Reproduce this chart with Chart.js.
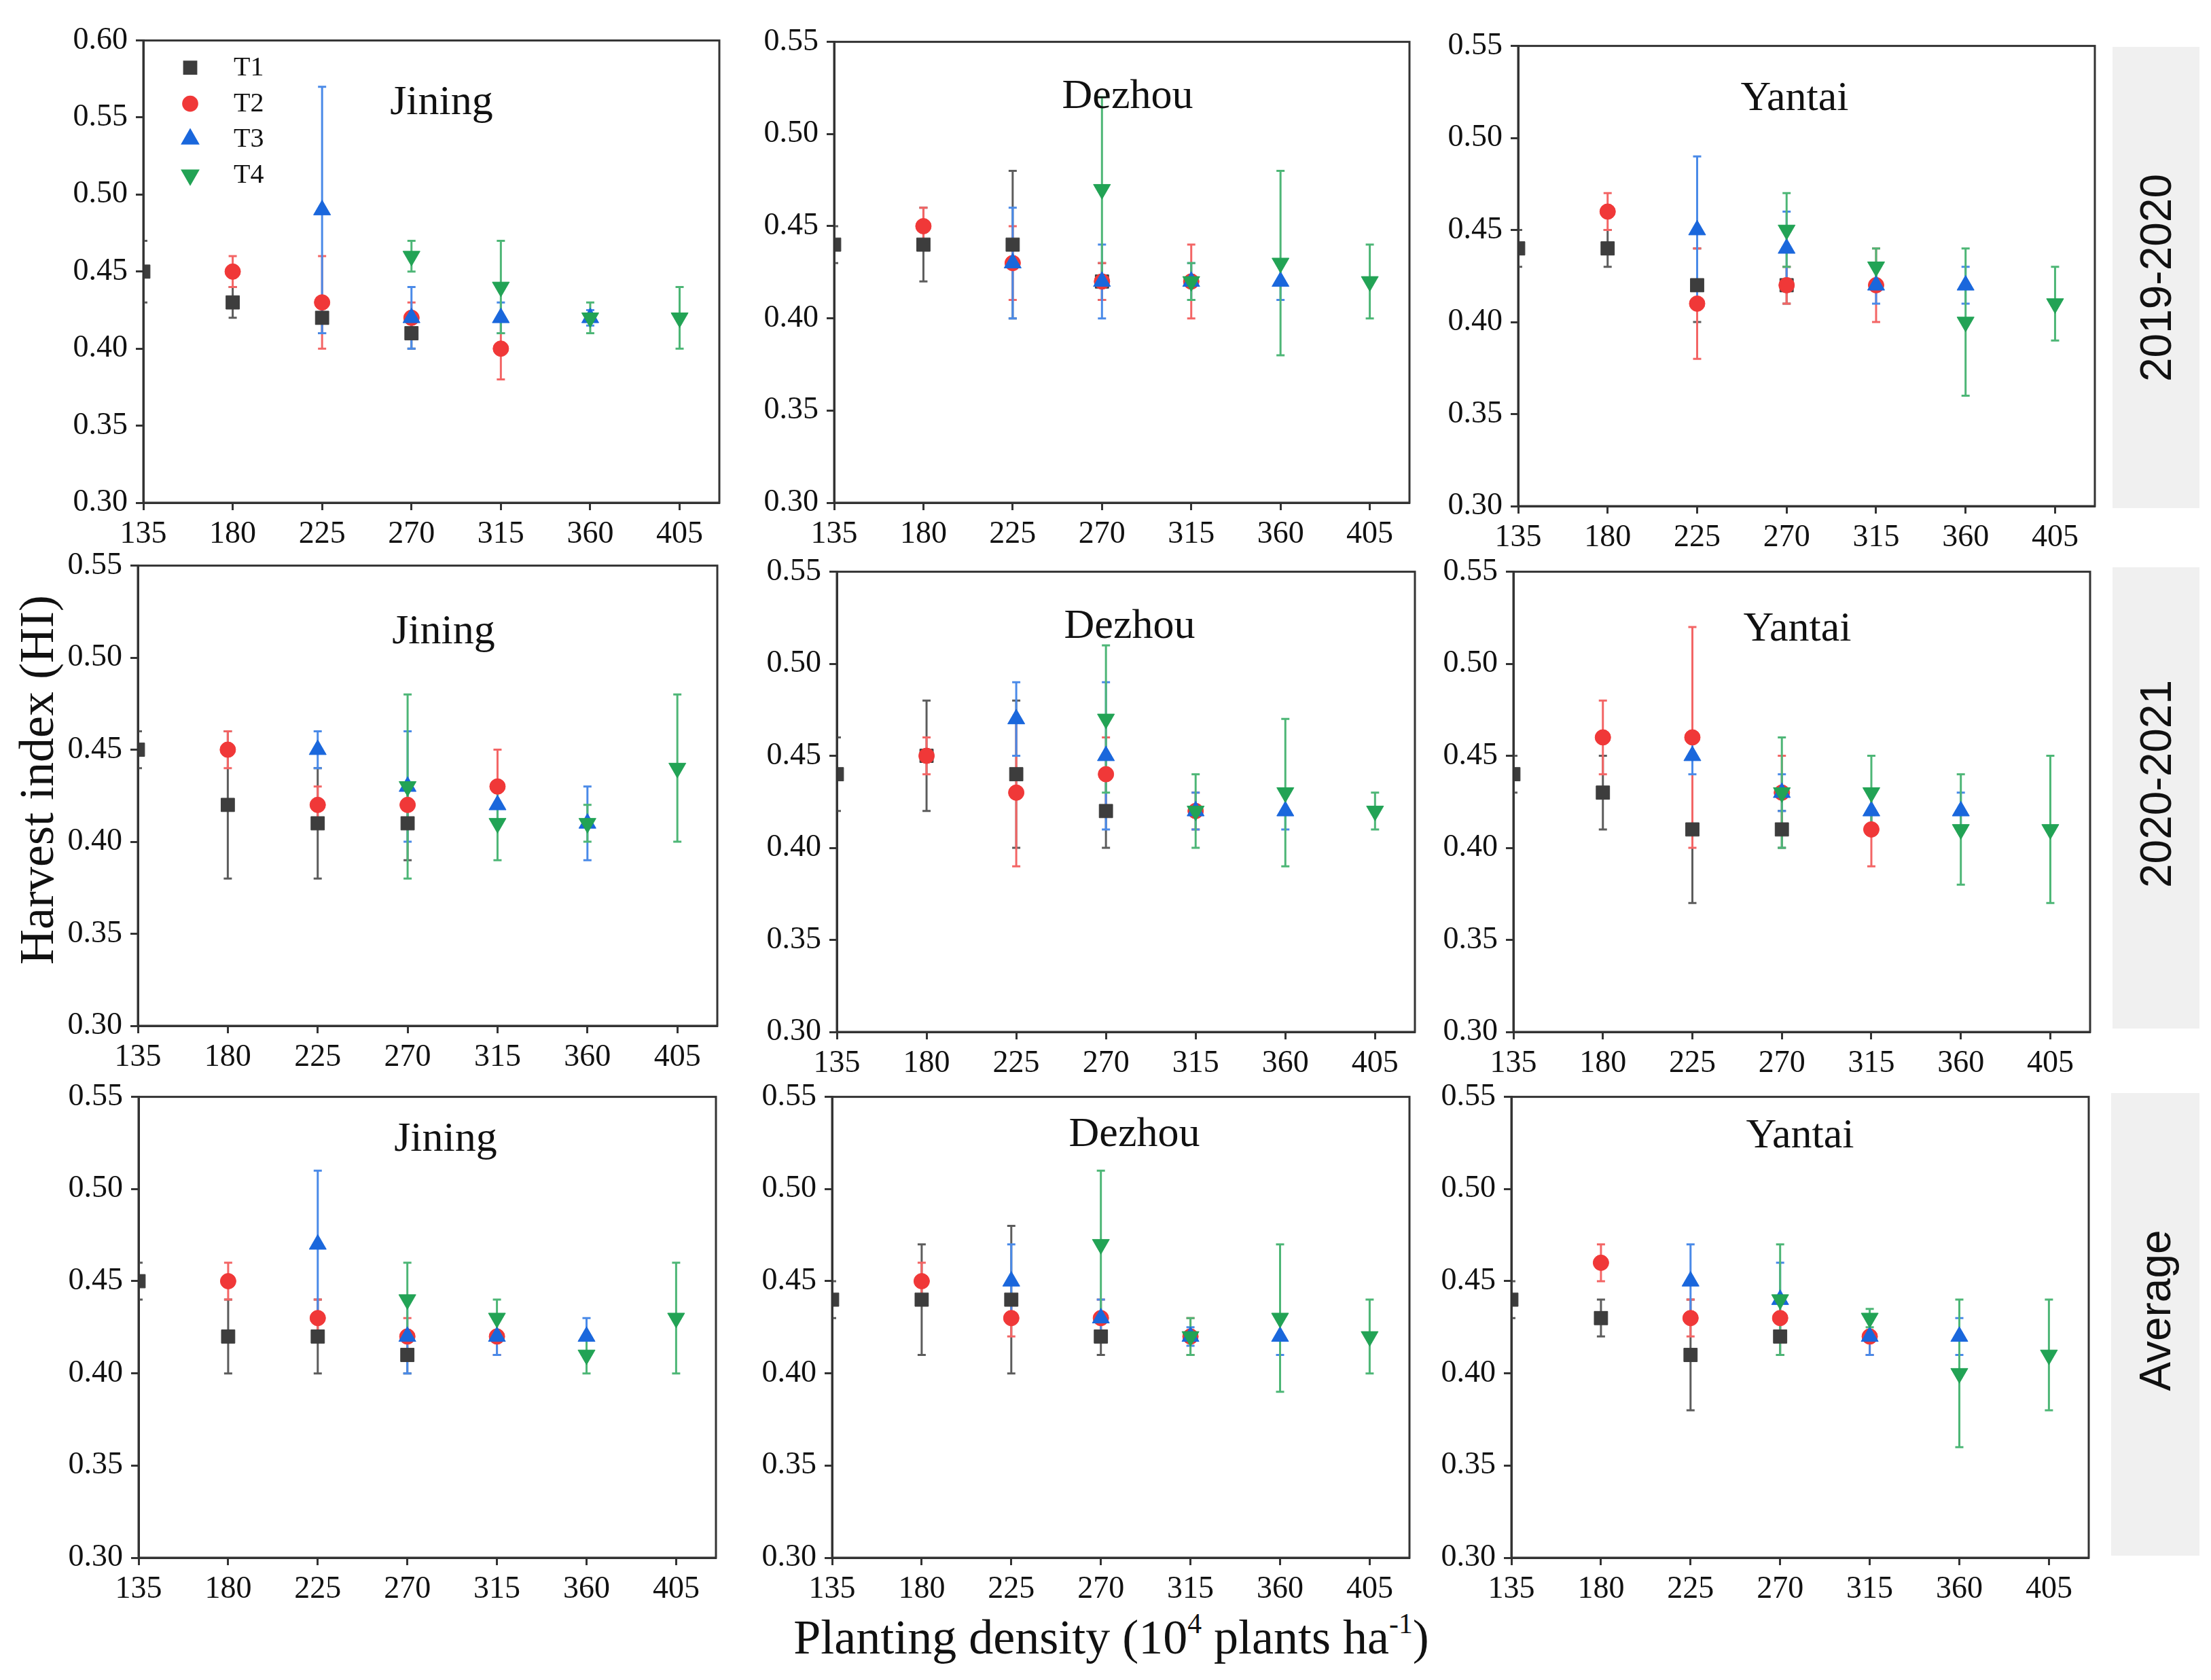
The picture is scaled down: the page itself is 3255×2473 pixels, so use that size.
<!DOCTYPE html>
<html><head><meta charset="utf-8">
<script src="https://cdn.jsdelivr.net/npm/chart.js@4.4.0/dist/chart.umd.min.js"></script>
<style>
html,body{margin:0;padding:0;background:#fff;}
body{width:3255px;height:2473px;position:relative;overflow:hidden;font-family:"Liberation Serif","Times New Roman",serif;color:#111;}
.panel{position:absolute;}
.strip{position:absolute;background:#f0f0f0;}
.strip span{position:absolute;left:50%;top:50%;transform:translate(-50%,-50%) rotate(-90deg);white-space:nowrap;font-family:"Liberation Sans",Arial,sans-serif;font-size:64px;color:#111;}
#ytitle{position:absolute;left:54px;top:1148px;transform:translate(-50%,-50%) rotate(-90deg);white-space:nowrap;font-size:72px;}
#xtitle{position:absolute;left:1636px;top:2410px;transform:translate(-50%,-50%);white-space:nowrap;font-size:72px;}
sup{font-size:58%;vertical-align:0.7em;line-height:0;}
</style></head>
<body>
<div id="ytitle">Harvest index (HI)</div>
<div id="xtitle">Planting density (10<sup>4</sup> plants ha<sup>-1</sup>)</div>
<div class="strip" style="left:3110px;top:69px;width:128px;height:679px;"><span>2019-2020</span></div>
<div class="strip" style="left:3110px;top:835px;width:128px;height:679px;"><span style="top:47%">2020-2021</span></div>
<div class="strip" style="left:3108px;top:1609px;width:130px;height:681px;"><span style="top:47%">Average</span></div>
<script>
// ---- data ----
const densityTicks = [135, 180, 225, 270, 315, 360, 405];
const xT1 = [135, 180, 225, 270];
const xT2 = [180, 225, 270, 315];
const xT3 = [225, 270, 315, 360];
const xT4 = [270, 315, 360, 405];
const treatments = ['T1', 'T2', 'T3', 'T4'];
const sites = ['Jining', 'Dezhou', 'Yantai'];
const seasons = ['2019-2020', '2020-2021', 'Average'];
const yTicksTall = [0.30, 0.35, 0.40, 0.45, 0.50, 0.55, 0.60];
const yTicksShort = [0.30, 0.35, 0.40, 0.45, 0.50, 0.55];

// mean HI, rows = T1..T4
const jining1920Mean = [[0.45,0.43,0.42,0.41],[0.45,0.43,0.42,0.40],[0.49,0.42,0.42,0.42],[0.46,0.44,0.42,0.42]];
const jining1920Err  = [[0.02,0.01,0.01,0.01],[0.01,0.03,0.01,0.02],[0.08,0.02,0.01,0.005],[0.01,0.03,0.01,0.02]];
const dezhou1920Mean = [[0.44,0.44,0.44,0.42],[0.45,0.43,0.42,0.42],[0.43,0.42,0.42,0.42],[0.47,0.42,0.43,0.42]];
const dezhou1920Err  = [[0.01,0.02,0.04,0.01],[0.01,0.02,0.01,0.02],[0.03,0.02,0.01,0.01],[0.05,0.01,0.05,0.02]];
const yantai1920Mean = [[0.44,0.44,0.42,0.42],[0.46,0.41,0.42,0.42],[0.45,0.44,0.42,0.42],[0.45,0.43,0.40,0.41]];
const yantai1920Err  = [[0.01,0.01,0.02,0.01],[0.01,0.03,0.01,0.02],[0.04,0.02,0.01,0.01],[0.02,0.01,0.04,0.02]];
const jining2021Mean = [[0.45,0.42,0.41,0.41],[0.45,0.42,0.42,0.43],[0.45,0.43,0.42,0.41],[0.43,0.41,0.41,0.44]];
const jining2021Err  = [[0.01,0.04,0.03,0.02],[0.01,0.01,0.01,0.02],[0.01,0.03,0.01,0.02],[0.05,0.02,0.01,0.04]];
const dezhou2021Mean = [[0.44,0.45,0.44,0.42],[0.45,0.43,0.44,0.42],[0.47,0.45,0.42,0.42],[0.47,0.42,0.43,0.42]];
const dezhou2021Err  = [[0.02,0.03,0.04,0.02],[0.01,0.04,0.02,0.01],[0.02,0.04,0.01,0.01],[0.04,0.02,0.04,0.01]];
const yantai2021Mean = [[0.44,0.43,0.41,0.41],[0.46,0.46,0.43,0.41],[0.45,0.43,0.42,0.42],[0.43,0.43,0.41,0.41]];
const yantai2021Err  = [[0.01,0.02,0.04,0.01],[0.02,0.06,0.02,0.02],[0.01,0.01,0.01,0.01],[0.03,0.02,0.03,0.04]];
const jiningAvgMean  = [[0.45,0.42,0.42,0.41],[0.45,0.43,0.42,0.42],[0.47,0.42,0.42,0.42],[0.44,0.43,0.41,0.43]];
const jiningAvgErr   = [[0.01,0.02,0.02,0.01],[0.01,0.01,0.01,0.01],[0.04,0.02,0.01,0.01],[0.02,0.01,0.01,0.03]];
const dezhouAvgMean  = [[0.44,0.44,0.44,0.42],[0.45,0.43,0.43,0.42],[0.45,0.43,0.42,0.42],[0.47,0.42,0.43,0.42]];
const dezhouAvgErr   = [[0.01,0.03,0.04,0.01],[0.01,0.01,0.01,0.01],[0.02,0.01,0.005,0.01],[0.04,0.01,0.04,0.02]];
const yantaiAvgMean  = [[0.44,0.43,0.41,0.42],[0.46,0.43,0.43,0.42],[0.45,0.44,0.42,0.42],[0.44,0.43,0.40,0.41]];
const yantaiAvgErr   = [[0.01,0.01,0.03,0.01],[0.01,0.01,0.01,0.01],[0.02,0.02,0.01,0.01],[0.03,0.005,0.04,0.03]];

// ---- styles / layout ----
const xPositions = [xT1, xT2, xT3, xT4];
const markerColors = ['#3d3d3d', '#f03838', '#1a67dc', '#22a355'];
const errColors = ['#5c5c5c', '#f36565', '#4a8ae8', '#4db676'];
const pointStyles = ['rect', 'circle', 'triangle', 'triangle'];
const pointRadii = [14, 11.5, 14.5, 14.5];
const rotations = [0, 0, 0, 180];
const ML = 160, MB = 95, MT = 34, MR = 30;
const SERIF = '"Liberation Serif", "Times New Roman", serif';

const panels = [
  {mean: jining1920Mean, err: jining1920Err, site: sites[0], L:211, T:54, R:1059, B:740, tx:439, ty:108, yt: yTicksTall, legend:true},
  {mean: dezhou1920Mean, err: dezhou1920Err, site: sites[1], L:1228, T:56, R:2075, B:740, tx:432, ty:97, yt: yTicksShort},
  {mean: yantai1920Mean, err: yantai1920Err, site: sites[2], L:2235, T:62, R:3084, B:745, tx:407, ty:94, yt: yTicksShort},
  {mean: jining2021Mean, err: jining2021Err, site: sites[0], L:203, T:827, R:1056, B:1510, tx:450, ty:114, yt: yTicksShort},
  {mean: dezhou2021Mean, err: dezhou2021Err, site: sites[1], L:1232, T:836, R:2083, B:1519, tx:431, ty:97, yt: yTicksShort},
  {mean: yantai2021Mean, err: yantai2021Err, site: sites[2], L:2228, T:836, R:3077, B:1519, tx:418, ty:101, yt: yTicksShort},
  {mean: jiningAvgMean, err: jiningAvgErr, site: sites[0], L:204, T:1609, R:1054, B:2293, tx:452, ty:79, yt: yTicksShort},
  {mean: dezhouAvgMean, err: dezhouAvgErr, site: sites[1], L:1225, T:1609, R:2075, B:2293, tx:445, ty:72, yt: yTicksShort},
  {mean: yantaiAvgMean, err: yantaiAvgErr, site: sites[2], L:2225, T:1609, R:3075, B:2293, tx:425, ty:74, yt: yTicksShort}
];

const errorBarPlugin = {
  id: 'errbars',
  beforeDatasetsDraw(chart) {
    const {ctx, chartArea: a, scales: {x, y}} = chart;
    ctx.save();
    ctx.beginPath(); ctx.rect(a.left, a.top, a.right - a.left, a.bottom - a.top); ctx.clip();
    chart.data.datasets.forEach(ds => {
      ctx.strokeStyle = ds.errColor; ctx.lineWidth = 3;
      ds.data.forEach(p => {
        const px = x.getPixelForValue(p.x);
        const y1 = y.getPixelForValue(p.y + p.e), y2 = y.getPixelForValue(p.y - p.e);
        ctx.beginPath();
        ctx.moveTo(px, y1); ctx.lineTo(px, y2);
        ctx.moveTo(px - 6, y1); ctx.lineTo(px + 6, y1);
        ctx.moveTo(px - 6, y2); ctx.lineTo(px + 6, y2);
        ctx.stroke();
      });
    });
    ctx.restore();
  }
};

const decorPlugin = {
  id: 'decor',
  afterDraw(chart, args, opts) {
    const {ctx, chartArea: a} = chart;
    ctx.save();
    ctx.strokeStyle = '#333'; ctx.lineWidth = 3;
    ctx.strokeRect(a.left, a.top, a.right - a.left, a.bottom - a.top);
    ctx.fillStyle = '#111';
    ctx.font = '62px ' + SERIF;
    ctx.textAlign = 'center'; ctx.textBaseline = 'alphabetic';
    ctx.fillText(opts.title, a.left + opts.tx, a.top + opts.ty);
    if (opts.legend) {
      const ys = [40, 93, 145, 198];
      chart.data.datasets.slice().sort((p, q) => p.tIndex - q.tIndex).forEach((ds, i) => {
        ctx.fillStyle = ds.backgroundColor; ctx.strokeStyle = ds.backgroundColor;
        Chart.helpers.drawPoint(ctx, {pointStyle: ds.pointStyle, radius: ds.pointRadius * 0.9, rotation: ds.rotation, borderWidth: 1}, a.left + 69, a.top + ys[i]);
        ctx.fillStyle = '#111';
        ctx.font = '40px ' + SERIF;
        ctx.textAlign = 'left'; ctx.textBaseline = 'middle';
        ctx.fillText(ds.label, a.left + 133, a.top + ys[i] + 1);
      });
    }
    ctx.restore();
  }
};

panels.forEach(p => {
  const w = (p.R - p.L) + ML + MR, h = (p.B - p.T) + MT + MB;
  const div = document.createElement('div');
  div.className = 'panel';
  div.style.left = (p.L - ML) + 'px'; div.style.top = (p.T - MT) + 'px';
  div.style.width = w + 'px'; div.style.height = h + 'px';
  const cv = document.createElement('canvas');
  cv.width = w; cv.height = h; cv.style.width = w + 'px'; cv.style.height = h + 'px';
  div.appendChild(cv); document.body.appendChild(div);

  const datasets = treatments.map((t, i) => ({
    label: t,
    tIndex: i,
    data: xPositions[i].map((xv, j) => ({x: xv, y: p.mean[i][j], e: p.err[i][j]})),
    pointStyle: pointStyles[i],
    pointRadius: pointRadii[i],
    rotation: rotations[i],
    backgroundColor: markerColors[i],
    borderColor: markerColors[i],
    borderWidth: 1,
    errColor: errColors[i],
    showLine: false,
    clip: 0,
    order: 3 - i
  }));

  const tickFont = {family: SERIF, size: 46};
  new Chart(cv, {
    type: 'scatter',
    data: {datasets},
    options: {
      responsive: false, animation: false, devicePixelRatio: 1,
      layout: {padding: {left: 0, top: MT, right: MR, bottom: 0}},
      plugins: {legend: {display: false}, tooltip: {enabled: false},
        decor: {title: p.site, tx: p.tx, ty: p.ty, legend: !!p.legend}},
      scales: {
        x: {type: 'linear', min: 135, max: 425,
          afterBuildTicks: s => { s.ticks = densityTicks.map(v => ({value: v})); },
          afterFit: s => { s.height = MB; },
          border: {display: true, color: '#333', width: 3},
          grid: {display: true, drawOnChartArea: false, drawTicks: true, tickLength: 11, tickWidth: 3, tickColor: '#333'},
          ticks: {font: tickFont, color: '#111', padding: 8, maxRotation: 0, autoSkip: false, callback: v => String(v)}},
        y: {type: 'linear', min: p.yt[0], max: p.yt[p.yt.length - 1],
          afterBuildTicks: s => { s.ticks = p.yt.map(v => ({value: v})); },
          afterFit: s => { s.width = ML; },
          border: {display: true, color: '#333', width: 3},
          grid: {display: true, drawOnChartArea: false, drawTicks: true, tickLength: 11, tickWidth: 3, tickColor: '#333'},
          ticks: {font: tickFont, color: '#111', padding: 12, autoSkip: false, callback: v => Number(v).toFixed(2)}}
      }
    },
    plugins: [errorBarPlugin, decorPlugin]
  });
});
</script>
</body></html>
